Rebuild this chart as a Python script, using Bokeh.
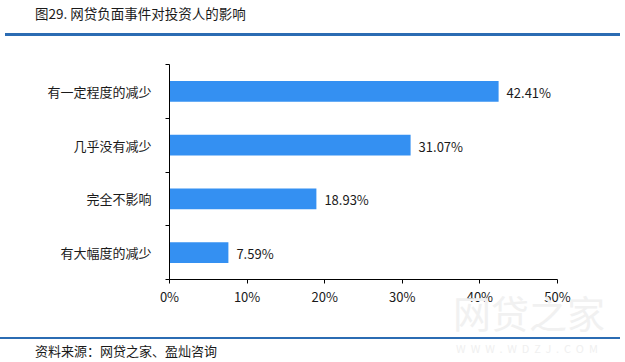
from bokeh.plotting import figure
from bokeh.models import (ColumnDataSource, Range1d, FixedTicker, PrintfTickFormatter,
                          LabelSet, Div)
from bokeh.layouts import column
from bokeh.core.properties import value
from bokeh.embed import file_html
from bokeh.resources import INLINE

# ---- data ----
categories = ["有一定程度的减少", "几乎没有减少", "完全不影响", "有大幅度的减少"]
values = [42.41, 31.07, 18.93, 7.59]
value_labels = ["42.41%", "31.07%", "18.93%", "7.59%"]
x_ticks = [0, 10, 20, 30, 40, 50]
title_text = "图29. 网贷负面事件对投资人的影响"
source_text = "资料来源：网贷之家、盈灿咨询"

FONT = "Noto Sans CJK SC"
BAR = "#3490F2"
LINE_BLUE = "#2b6cb3"
TXT = "#1a1a1a"
W = 620

n = len(categories)
ys = [n - 0.5 - i for i in range(n)]
src = ColumnDataSource(dict(y=ys, v=values, lab=value_labels, cat=categories))

header = Div(width=W, height=48, margin=(0, 0, 0, 0), text=f"""
<div style="position:relative;width:{W}px;height:48px;font-family:'{FONT}';color:{TXT};">
  <div style="position:absolute;left:35px;top:3px;font-size:13.5px;line-height:20px;white-space:nowrap;">{title_text}</div>
  <div style="position:absolute;left:5px;top:33px;width:615px;height:2.5px;background:{LINE_BLUE};"></div>
</div>""")

p = figure(width=W, height=282, output_backend="svg", toolbar_location=None,
           x_range=Range1d(0, 50), y_range=Range1d(0, n), margin=(0, 0, 0, 0),
           min_border_left=169, min_border_right=W - 557, min_border_top=16, min_border_bottom=51)
p.outline_line_color = None
p.xgrid.visible = False
p.ygrid.visible = False

p.hbar(y="y", right="v", left=0, height=0.39, source=src, color=BAR, line_color=None)

labels = LabelSet(x="v", y="y", text="lab", source=src, x_offset=8, y_offset=-1,
                  text_font=value(FONT), text_font_size="13px", text_color=TXT,
                  text_baseline="middle", text_align="left")
p.add_layout(labels)

# x axis
p.xaxis.ticker = FixedTicker(ticks=x_ticks, minor_ticks=[])
p.xaxis.formatter = PrintfTickFormatter(format="%d%%")
p.xaxis.axis_line_color = "black"
p.xaxis.major_tick_line_color = "black"
p.xaxis.major_tick_out = 4
p.xaxis.major_tick_in = 0
p.xaxis.minor_tick_line_color = None
p.xaxis.major_label_standoff = 3
p.xaxis.major_label_text_font = FONT
p.xaxis.major_label_text_font_size = "13px"
p.xaxis.major_label_text_color = TXT

# y axis (labels at band centres, ticks at band boundaries)
p.yaxis.ticker = FixedTicker(ticks=ys, minor_ticks=list(range(n + 1)))
p.yaxis.major_label_overrides = {y: c for y, c in zip(ys, categories)}
p.yaxis.axis_line_color = "black"
p.yaxis.major_tick_line_color = None
p.yaxis.major_tick_out = 4
p.yaxis.major_tick_in = 0
p.yaxis.minor_tick_line_color = "black"
p.yaxis.minor_tick_out = 4
p.yaxis.minor_tick_in = 0
p.yaxis.major_label_standoff = 14
p.yaxis.major_label_text_font = FONT
p.yaxis.major_label_text_font_size = "13px"
p.yaxis.major_label_text_color = TXT

footer = Div(width=W, height=30, margin=(0, 0, 0, 0), text=f"""
<div style="position:relative;width:{W}px;height:30px;font-family:'{FONT}';color:{TXT};">
  <div style="position:absolute;left:453px;top:-38px;font-size:38px;line-height:40px;color:#f1f1f1;white-space:nowrap;">网贷之家</div>
  <div style="position:absolute;left:456px;top:12px;font-size:11px;line-height:12px;color:#f0f0f0;letter-spacing:5px;white-space:nowrap;">WWW.WDZJ.COM</div>
  <div style="position:absolute;left:0px;top:6.5px;width:620px;height:2.5px;background:{LINE_BLUE};"></div>
  <div style="position:absolute;left:35px;top:11px;font-size:13px;line-height:20px;white-space:nowrap;">{source_text}</div>
</div>""")

layout = column(header, p, footer, spacing=0, margin=(0, 0, 0, 0))
open("out.html", "w").write(file_html(layout, INLINE))
